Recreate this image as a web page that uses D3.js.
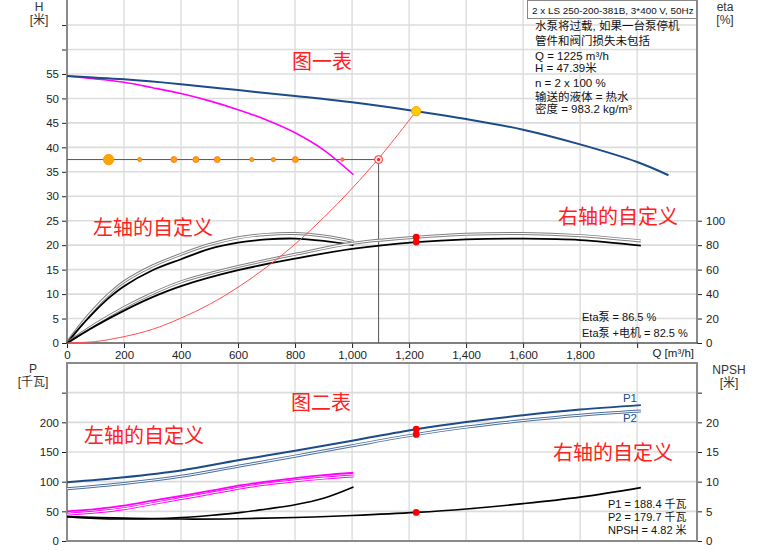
<!DOCTYPE html>
<html><head><meta charset="utf-8">
<script src="https://cdn.jsdelivr.net/npm/d3@7"></script>
<style>
body{margin:0;background:#fff;}
svg text{font-family:"Liberation Sans",Arial,"Noto Sans CJK SC",sans-serif;}
</style>
</head><body>
<svg id="c" width="760" height="550"></svg>
<script>
// ---------- DATA ----------
const xTicks = [0,200,400,600,800,1000,1200,1400,1600,1800,2000];
const hTicks = [0,5,10,15,20,25,30,35,40,45,50,55,60,65];
const etaTicks = [0,20,40,60,80,100];
const pTicks = [0,50,100,150,200,250];
const npshTicks = [0,5,10,15,20,25];

// single pump
const qSingle = [0,100,200,300,400,500,600,700,800,900,1005];
const hSingle = [54.6,54.0,53.3,52.2,51.0,49.5,47.7,45.6,43.0,39.5,34.4];
const qSingleEta = [0,50,100,150,200,300,400,500,600,700,800,900,1005];
const etaPumpSingle = [0,15.5,29,40.5,50,63,72.5,80.5,86,88.8,89.5,87.5,83];
const etaTotSingle = [0,14,26.5,37.5,46.5,59.5,68.5,77,82,84.7,85.4,83.5,80];
const qSingleP = [0,100,200,300,400,500,612,700,800,900,1005];
const p1Single = [50,53.8,59.5,68,76,84.5,94.2,100,106,111,115];
const p2Single = [45,48.8,54.5,63,71.5,80,89.8,96,101.5,106,109.5];
const npshSingle = [4.1,3.8,3.7,3.75,3.95,4.3,4.82,5.4,6.1,7.2,9.1];

// two pumps
const qComb = [0,200,400,600,800,1000,1225,1400,1600,1800,2000,2110];
const hComb = [54.6,53.9,52.9,51.7,50.5,49.2,47.39,45.8,43.6,40.6,37.0,34.3];
const qCombEta = [0,100,200,300,400,600,800,1000,1225,1400,1600,1800,2013];
const etaPumpComb = [0,15.5,29,40.5,50,62.5,72.5,81.5,86.5,88.9,89.5,87.8,83.5];
const etaTotComb = [0,14,26.5,37.5,46.5,59.5,69,77,82.5,84.8,85.3,84.2,79.6];
const qCombP = [0,200,400,600,800,1000,1225,1400,1600,1800,2013];
const p1Comb = [99,107.5,119,136,152,169,188.4,200.5,212,221.5,229];
const p2Comb = [88,97,109,126,143,160.5,179.7,192,203,212,219];
const npshComb = [4.1,3.85,3.7,3.75,3.95,4.3,4.82,5.4,6.3,7.4,9.0];

// system curve
const qSys = [0,100,200,300,400,500,600,700,800,900,1000,1100,1225];
const hSys = [0,0.3,1.3,2.8,5.1,7.9,11.4,15.5,20.2,25.6,31.6,38.2,47.39];

// operating point & reference line
const opQ = 1225, opH = 47.39, opEtaPump = 86.5, opEtaTot = 82.5, opP1 = 188.4, opP2 = 179.7, opNpsh = 4.82;
const refH = 37.5, refQ = 1093;
const dotQ = [146,255,375,452,527,648,724,801,966];
const dotKind = ["big","small","mid","mid","mid","small","small","mid","tiny"];

const infoLines = ["水泵将过载, 如果一台泵停机","管件和阀门损失未包括","Q = 1225 m³/h","H = 47.39米","n = 2 x 100 %","输送的液体 = 热水","密度 = 983.2 kg/m³"];
const titleText = "2 x LS 250-200-381B, 3*400 V, 50Hz";
const etaLines = ["Eta泵  = 86.5 %","Eta泵 +电机  = 82.5 %"];
const pLines = ["P1 = 188.4 千瓦","P2 = 179.7 千瓦","NPSH = 4.82 米"];

// ---------- DRAW ----------
const svg = d3.select("#c");
const L = 67, R = 697;
const x = d3.scaleLinear().domain([0,2210]).range([L,R]);
const yH = d3.scaleLinear().domain([0,70]).range([343,0.6]);
const yEta = d3.scaleLinear().domain([0,280]).range([343,0.6]);
const yP = d3.scaleLinear().domain([0,300]).range([541,363]);
const yN = d3.scaleLinear().domain([0,30]).range([541,363]);

const zip = (a,b)=>a.map((v,i)=>[v,b[i]]);
function path(qs, vs, ys, stroke, width, curve){
  const line = d3.line().x(d=>x(d[0])).y(d=>ys(d[1])).curve(curve || d3.curveMonotoneX);
  svg.append("path").attr("d", line(zip(qs,vs))).attr("fill","none")
    .attr("stroke",stroke).attr("stroke-width",width).attr("stroke-linejoin","round");
}
function hollow(qs, vs, ys, stroke, curve){
  path(qs,vs,ys,stroke,3,curve);
  path(qs,vs,ys,"#fff",1.1,curve);
}
const smooth = d3.curveCatmullRom.alpha(0.5);

// grid
const gridH = "#dcdcdc", gridV = "#cfcfcf";
xTicks.filter(t=>t>0).forEach(t=>{
  svg.append("line").attr("x1",x(t)).attr("x2",x(t)).attr("y1",0).attr("y2",343).attr("stroke",gridV).attr("stroke-width",1);
  svg.append("line").attr("x1",x(t)).attr("x2",x(t)).attr("y1",363).attr("y2",541).attr("stroke",gridV).attr("stroke-width",1);
});
hTicks.filter(t=>t>0).forEach(t=>{
  svg.append("line").attr("x1",L).attr("x2",R).attr("y1",yH(t)).attr("y2",yH(t)).attr("stroke",gridH).attr("stroke-width",1.6);
});
pTicks.filter(t=>t>0).forEach(t=>{
  svg.append("line").attr("x1",L).attr("x2",R).attr("y1",yP(t)).attr("y2",yP(t)).attr("stroke",gridH).attr("stroke-width",1.6);
});

// axes
const tickFont = "11.5px";
const axH = svg.append("g").attr("transform",`translate(${L},0)`)
  .call(d3.axisLeft(yH).tickValues(hTicks).tickSize(5).tickPadding(3).tickFormat(d=>d<=55?d:""));
const axEta = svg.append("g").attr("transform",`translate(${R},0)`)
  .call(d3.axisRight(yEta).tickValues(etaTicks).tickSize(5).tickPadding(4));
const axX = svg.append("g").attr("transform",`translate(0,343)`)
  .call(d3.axisBottom(x).tickValues(xTicks).tickSize(5).tickPadding(1).tickFormat(d=>d<2000?d3.format(",")(d):""));
const axP = svg.append("g").attr("transform",`translate(${L},0)`)
  .call(d3.axisLeft(yP).tickValues(pTicks).tickSize(5).tickPadding(3).tickFormat(d=>d<=200?d:""));
const axN = svg.append("g").attr("transform",`translate(${R},0)`)
  .call(d3.axisRight(yN).tickValues(npshTicks).tickSize(5).tickPadding(4).tickFormat(d=>d<=20?d:""));
[axH,axEta,axX,axP,axN].forEach(a=>{
  a.select(".domain").remove();
  a.selectAll(".tick line").attr("stroke","#222");
  a.selectAll("text").attr("fill","#222").style("font-size",tickFont);
});
axX.selectAll("text").attr("dy","0.85em");

// frames
const frame = "#8a8a8a";
svg.append("line").attr("x1",L).attr("x2",L).attr("y1",0).attr("y2",343).attr("stroke",frame).attr("stroke-width",2);
svg.append("line").attr("x1",R).attr("x2",R).attr("y1",0).attr("y2",343).attr("stroke",frame).attr("stroke-width",2);
svg.append("line").attr("x1",L-1).attr("x2",R+1).attr("y1",343).attr("y2",343).attr("stroke","#555").attr("stroke-width",1.5);
svg.append("rect").attr("x",L).attr("y",363).attr("width",R-L).attr("height",541-363).attr("fill","none").attr("stroke",frame).attr("stroke-width",2);

// axis titles
function txt(s,xx,yy,anchor,size,fill){
  return svg.append("text").attr("x",xx).attr("y",yy).attr("text-anchor",anchor||"start")
    .style("font-size",(size||12)+"px").attr("fill",fill||"#333").text(s);
}
txt("H",39,11,"middle"); txt("[米]",39,24,"middle");
txt("eta",725,11,"middle"); txt("[%]",725,24,"middle");
txt("P",33,373,"middle"); txt("[千瓦]",33,386,"middle");
txt("NPSH",729,374,"middle"); txt("[米]",729,387,"middle");
txt("Q [m³/h]",694,357,"end",11.5,"#222");

// ---------- top plot curves ----------
svg.append("line").attr("x1",L).attr("x2",x(refQ)).attr("y1",yH(refH)).attr("y2",yH(refH)).attr("stroke","#555").attr("stroke-width",1);
svg.append("line").attr("x1",x(refQ)).attr("x2",x(refQ)).attr("y1",yH(refH)).attr("y2",343).attr("stroke","#555").attr("stroke-width",1);

hollow(qSingleEta, etaPumpSingle, yEta, "#808080", smooth);
path(qSingleEta, etaTotSingle, yEta, "#000", 1.8, smooth);
hollow(qCombEta, etaPumpComb, yEta, "#808080", smooth);
path(qCombEta, etaTotComb, yEta, "#000", 1.8, smooth);

path(qSys, hSys, yH, "#ff5050", 1, smooth);
path(qSingle, hSingle, yH, "#ff00ff", 1.6, smooth);
path(qComb, hComb, yH, "#1c4b87", 2, smooth);

const dotR = {big:5.2, mid:3, small:2.1, tiny:1.8};
dotQ.forEach((q,i)=>{
  const k = dotKind[i];
  svg.append("circle").attr("cx",x(q)).attr("cy",yH(refH)).attr("r",dotR[k])
    .attr("fill", k==="tiny" ? "#ff7050" : "#ffa500")
    .attr("stroke", k==="big" ? "#ff9000" : "#ff6a30").attr("stroke-width",0.8);
});
svg.append("circle").attr("cx",x(refQ)).attr("cy",yH(refH)).attr("r",4).attr("fill","#ffe0e0").attr("stroke","#ff3030").attr("stroke-width",1);
svg.append("circle").attr("cx",x(refQ)).attr("cy",yH(refH)).attr("r",1.6).attr("fill","#ff2020");

svg.append("circle").attr("cx",x(opQ)).attr("cy",yH(opH)).attr("r",4.6).attr("fill","#ffd000").attr("stroke","#ff9a00").attr("stroke-width",1);
[opEtaPump, opEtaTot].forEach(v=>svg.append("circle").attr("cx",x(opQ)).attr("cy",yEta(v)).attr("r",3.4).attr("fill","#ff0000"));

// ---------- bottom plot curves ----------
hollow(qSingleP, p2Single, yP, "#ff00ff", smooth);
path(qSingleP, p1Single, yP, "#ff00ff", 1.8, smooth);
hollow(qCombP, p2Comb, yP, "#4a6f9e", smooth);
path(qCombP, p1Comb, yP, "#1c4b87", 2, smooth);
path(qSingleP, npshSingle, yN, "#000", 1.6, smooth);
path(qCombP, npshComb, yN, "#000", 1.6, smooth);
[opP1, opP2].forEach(v=>svg.append("circle").attr("cx",x(opQ)).attr("cy",yP(v)).attr("r",3.4).attr("fill","#ff0000"));
svg.append("circle").attr("cx",x(opQ)).attr("cy",yN(opNpsh)).attr("r",3.4).attr("fill","#ff0000");

txt("P1",630,402,"middle",11.5,"#1c4b87");
txt("P2",630,422,"middle",11.5,"#1c4b87");

// ---------- text boxes ----------
svg.append("rect").attr("x",527.5).attr("y",0.5).attr("width",169).attr("height",18).attr("fill","#fff").attr("stroke","#888");
txt(titleText,532,13.5,"start",9.9,"#111");
const infoY = [30,45,59.5,72,86.5,100.5,113];
infoLines.forEach((s,i)=>txt(s,535,infoY[i],"start",11.5,"#111"));

txt(etaLines[0],582,321,"start",11,"#111");
txt(etaLines[1],582,337,"start",11,"#111");
const pY = [508,521,534];
pLines.forEach((s,i)=>txt(s,608,pY[i],"start",11,"#111"));

// ---------- red annotations ----------
const red = "#ff2020";
txt("图一表",322,69,"middle",20,red);
txt("左轴的自定义",153,235,"middle",20,red);
txt("右轴的自定义",618,224,"middle",20,red);
txt("图二表",321,410,"middle",20,red);
txt("左轴的自定义",144,443,"middle",20,red);
txt("右轴的自定义",613,460,"middle",20,red);
</script>
</body></html>
